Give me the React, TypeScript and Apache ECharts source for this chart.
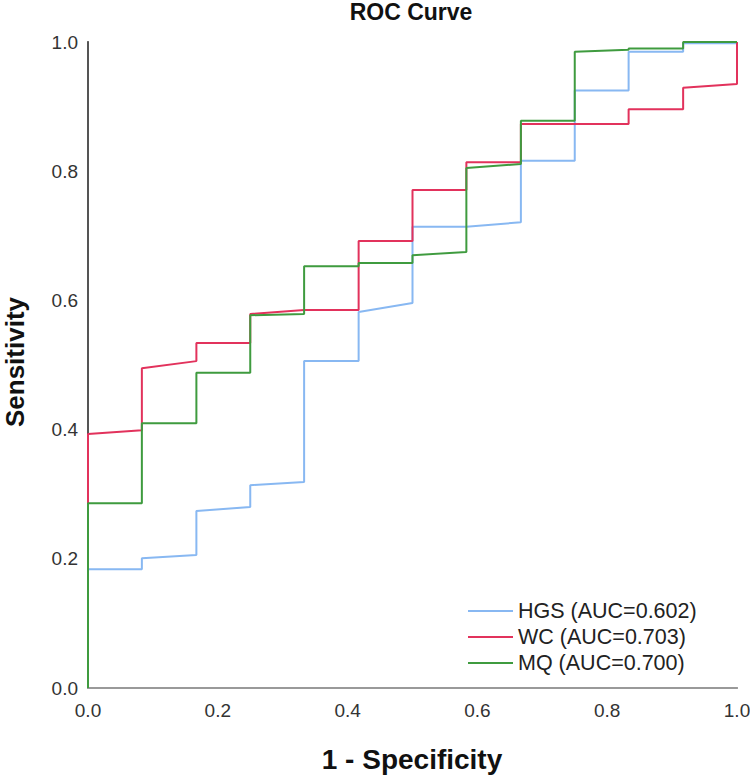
import React, { useEffect, useRef } from "react";
import * as echarts from "echarts";

// 1 - Specificity (x) and Sensitivity (y) for each curve
const hgsX = [0, 0, 0.083, 0.083, 0.167, 0.167, 0.25, 0.25, 0.333, 0.333, 0.417, 0.417, 0.5, 0.5, 0.583, 0.667, 0.667, 0.75, 0.75, 0.833, 0.833, 0.917, 0.917, 1, 1];
const hgsY = [0, 0.184, 0.184, 0.201, 0.206, 0.274, 0.28, 0.314, 0.319, 0.506, 0.506, 0.582, 0.596, 0.714, 0.714, 0.721, 0.816, 0.816, 0.925, 0.925, 0.985, 0.985, 0.998, 0.998, 1];

const wcX = [0, 0, 0.083, 0.083, 0.167, 0.167, 0.25, 0.25, 0.333, 0.417, 0.417, 0.5, 0.5, 0.583, 0.583, 0.667, 0.667, 0.833, 0.833, 0.917, 0.917, 1, 1];
const wcY = [0, 0.393, 0.399, 0.495, 0.506, 0.534, 0.534, 0.579, 0.585, 0.585, 0.692, 0.692, 0.771, 0.771, 0.814, 0.814, 0.873, 0.873, 0.896, 0.896, 0.929, 0.935, 1];

const mqX = [0, 0, 0.083, 0.083, 0.167, 0.167, 0.25, 0.25, 0.333, 0.333, 0.417, 0.417, 0.5, 0.5, 0.583, 0.583, 0.667, 0.667, 0.75, 0.75, 0.833, 0.833, 0.917, 0.917, 1];
const mqY = [0, 0.286, 0.286, 0.41, 0.41, 0.488, 0.488, 0.577, 0.579, 0.653, 0.653, 0.658, 0.658, 0.67, 0.675, 0.805, 0.811, 0.878, 0.878, 0.985, 0.988, 0.99, 0.99, 1, 1];

const seriesNames = ["HGS (AUC=0.602)", "WC (AUC=0.703)", "MQ (AUC=0.700)"];
const seriesColors = ["#88b8f2", "#e2325c", "#3f9b3f"];
const seriesX = [hgsX, wcX, mqX];
const seriesY = [hgsY, wcY, mqY];

const xAxisName = "1 - Specificity";
const yAxisName = "Sensitivity";

const FONT = "Liberation Sans, Arial, sans-serif";

export default function App() {
  const ref = useRef<HTMLDivElement>(null);

  useEffect(() => {
    if (!ref.current) return;
    const chart = echarts.init(ref.current, undefined, { renderer: "svg" });
    const grid = { left: 88, top: 42, width: 649, height: 646, containLabel: false, outerBoundsMode: "none" };
    chart.setOption({
      animation: false,
      backgroundColor: "#ffffff",
      title: {
        text: "ROC Curve",
        left: 411,
        textAlign: "center",
        top: 0,
        padding: [0, 0, 0, 0],
        textStyle: { fontFamily: FONT, fontSize: 23, fontWeight: "bold", color: "#111" },
      },
      grid,
      legend: {
        orient: "vertical",
        left: 468,
        top: 598,
        padding: 0,
        itemWidth: 45,
        itemHeight: 2,
        itemGap: 0,
        icon: "rect",
        textStyle: { fontFamily: FONT, fontSize: 21.5, color: "#222", lineHeight: 26 },
        data: seriesNames,
      },
      graphic: [
        {
          type: "text",
          x: 412,
          y: 759,
          style: {
            text: xAxisName,
            align: "center",
            verticalAlign: "middle",
            fontFamily: FONT,
            fontSize: 28,
            fontWeight: "bold",
            fill: "#111",
          },
        },
        {
          type: "text",
          x: 15,
          y: 362,
          rotation: Math.PI / 2,
          style: {
            text: yAxisName,
            align: "center",
            verticalAlign: "middle",
            fontFamily: FONT,
            fontSize: 26,
            fontWeight: "bold",
            fill: "#111",
          },
        },
      ],
      xAxis: [
        {
          type: "value",
          min: 0,
          max: 1,
          interval: 0.2,
          axisLine: { show: true, lineStyle: { color: "#a6a6a6", width: 2 } },
          axisTick: { show: false },
          splitLine: { show: false },
          axisLabel: {
            margin: 13,
            fontFamily: FONT,
            fontSize: 19,
            color: "#333",
            formatter: (v: number) => v.toFixed(1),
          },
        },
        {
          type: "value",
          position: "top",
          min: 0,
          max: 1,
          axisLine: { show: true, lineStyle: { color: "#999", width: 2 } },
          axisTick: { show: false },
          axisLabel: { show: false },
          splitLine: { show: false },
        },
      ],
      yAxis: [
        {
          type: "value",
          min: 0,
          max: 1,
          interval: 0.2,
          axisLine: { show: true, lineStyle: { color: "#a6a6a6", width: 2 } },
          axisTick: { show: false },
          splitLine: { show: false },
          axisLabel: {
            margin: 10,
            fontFamily: FONT,
            fontSize: 19,
            color: "#333",
            formatter: (v: number) => v.toFixed(1),
          },
        },
        {
          type: "value",
          position: "right",
          min: 0,
          max: 1,
          axisLine: { show: true, lineStyle: { color: "#555", width: 2 } },
          axisTick: { show: false },
          axisLabel: { show: false },
          splitLine: { show: false },
        },
      ],
      series: seriesNames.map((name, i) => ({
        name,
        type: "line",
        showSymbol: false,
        symbol: "none",
        color: seriesColors[i],
        lineStyle: { color: seriesColors[i], width: 2 },
        data: seriesX[i].map((x, j) => [x, seriesY[i][j]]),
        z: 3 + i,
      })),
    });
    return () => chart.dispose();
  }, []);

  return (
    <div
      ref={ref}
      style={{ position: "fixed", left: 0, top: 0, width: 750, height: 777, background: "#fff" }}
    />
  );
}
